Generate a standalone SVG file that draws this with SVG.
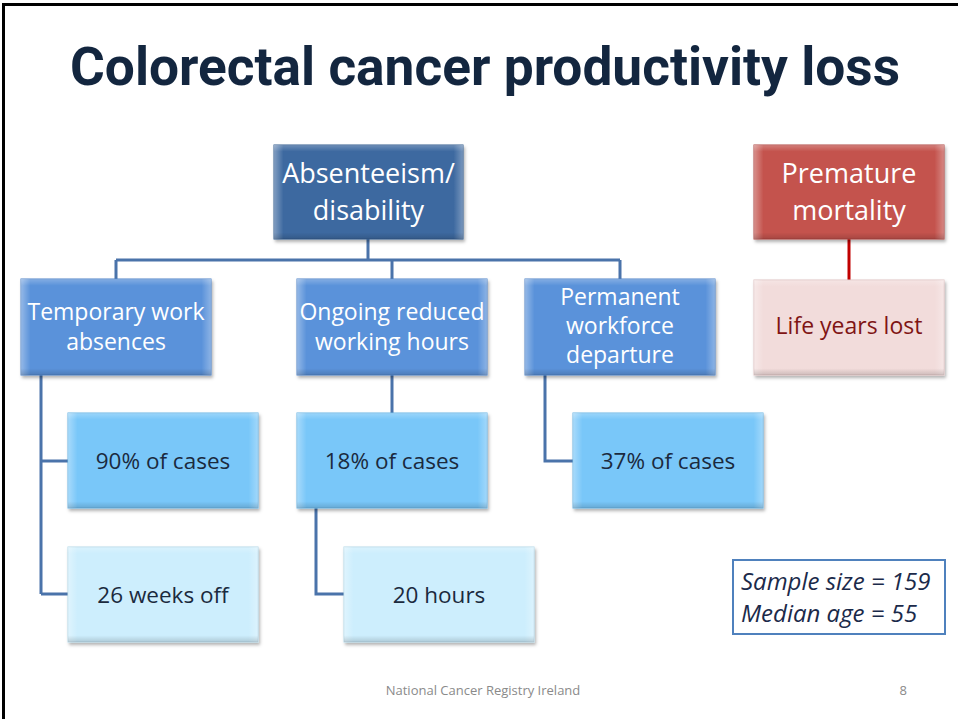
<svg xmlns="http://www.w3.org/2000/svg" width="958" height="719" viewBox="0 0 958 719">
<defs>
<filter id="sh" x="-10%" y="-10%" width="125%" height="130%">
<feDropShadow dx="1.5" dy="2.5" stdDeviation="1.5" flood-color="#000" flood-opacity="0.3"/>
</filter>
<linearGradient id="bevL" x1="0" y1="0" x2="1" y2="0">
<stop offset="0" stop-color="#fff" stop-opacity="0.35"/>
<stop offset="0.05" stop-color="#fff" stop-opacity="0"/>
<stop offset="0.95" stop-color="#fff" stop-opacity="0"/>
<stop offset="1" stop-color="#fff" stop-opacity="0.3"/>
</linearGradient>
<linearGradient id="bevT" x1="0" y1="0" x2="0" y2="1">
<stop offset="0" stop-color="#fff" stop-opacity="0.25"/>
<stop offset="0.07" stop-color="#fff" stop-opacity="0"/>
<stop offset="0.93" stop-color="#000" stop-opacity="0"/>
<stop offset="1" stop-color="#000" stop-opacity="0.15"/>
</linearGradient>
</defs>
<style>
.t{font-family:"Open Sans","Liberation Sans",sans-serif;text-anchor:middle}
.w{fill:#ffffff;font-size:27px}
.wl{fill:#ffffff;font-size:23px}
.d{fill:#1b2a3e;font-size:22.5px}
.lvl0{fill:#3d69a0;stroke:#355d90;stroke-width:1}
.red0{fill:#c4524d;stroke:#b04642;stroke-width:1}
.lvl1{fill:#5a92da;stroke:#4f84c8;stroke-width:1}
.lvl2{fill:#79c7f9;stroke:#6ab5e6;stroke-width:1}
.lvl3{fill:#cdeefd;stroke:#b6d9ea;stroke-width:1}
.pink{fill:#f2dcdb;stroke:#e0c4c3;stroke-width:1}
.bl{fill:url(#bevL)}
.bt{fill:url(#bevT)}
.c{fill:none;stroke:#4a73aa;stroke-width:3}
.cr{fill:none;stroke:#c00000;stroke-width:3}
.s{font-family:"Open Sans","Liberation Sans",sans-serif;font-style:italic;font-size:24px;fill:#1b2a4a}
</style>
<rect x="0" y="0" width="958" height="719" fill="#ffffff"/>
<path d="M3.5,719 V4.5 H958" fill="none" stroke="#000" stroke-width="3"/>
<text x="485" y="85" font-family="Roboto,Open Sans,sans-serif" font-weight="bold" font-size="53" fill="#13263f" text-anchor="middle" textLength="830" lengthAdjust="spacingAndGlyphs">Colorectal cancer productivity loss</text>

<g id="connectors">
<path class="c" d="M368,239 V260 M116,260 H620 M116,260 V279 M392,260 V279 M620,260 V279"/>
<path class="c" d="M41,375 V594 M41,461 H68 M41,594 H68"/>
<path class="c" d="M392,375 V413"/>
<path class="c" d="M316,508 V594 H344"/>
<path class="c" d="M545,375 V461 H573"/>
<path class="cr" d="M849,239 V280"/>
</g>

<g id="absenteeism">
<g filter="url(#sh)"><rect class="lvl0" x="274" y="145" width="189" height="94"/></g>
<rect class="bl" x="274" y="145" width="189" height="94"/><rect class="bt" x="274" y="145" width="189" height="94"/>
<text class="t w" x="368.5" y="183">Absenteeism/</text>
<text class="t w" x="368.5" y="220">disability</text>
</g>

<g id="premature">
<g filter="url(#sh)"><rect class="red0" x="754" y="145" width="190" height="94"/></g>
<rect class="bl" x="754" y="145" width="190" height="94"/><rect class="bt" x="754" y="145" width="190" height="94"/>
<text class="t w" x="849" y="183">Premature</text>
<text class="t w" x="849" y="220">mortality</text>
</g>

<g id="lifeyears">
<g filter="url(#sh)"><rect class="pink" x="754" y="280" width="190" height="95"/></g>
<rect class="bl" x="754" y="280" width="190" height="95"/><rect class="bt" x="754" y="280" width="190" height="95"/>
<text class="t" x="849" y="334" fill="#7f1414" font-size="23">Life years lost</text>
</g>

<g id="temporary">
<g filter="url(#sh)"><rect class="lvl1" x="21" y="279" width="190" height="96"/></g>
<rect class="bl" x="21" y="279" width="190" height="96"/><rect class="bt" x="21" y="279" width="190" height="96"/>
<text class="t wl" x="116" y="320">Temporary work</text>
<text class="t wl" x="116" y="350">absences</text>
</g>

<g id="ongoing">
<g filter="url(#sh)"><rect class="lvl1" x="297" y="279" width="190" height="96"/></g>
<rect class="bl" x="297" y="279" width="190" height="96"/><rect class="bt" x="297" y="279" width="190" height="96"/>
<text class="t wl" x="392" y="320">Ongoing reduced</text>
<text class="t wl" x="392" y="350">working hours</text>
</g>

<g id="permanent">
<g filter="url(#sh)"><rect class="lvl1" x="525" y="279" width="190" height="96"/></g>
<rect class="bl" x="525" y="279" width="190" height="96"/><rect class="bt" x="525" y="279" width="190" height="96"/>
<text class="t wl" x="620" y="305">Permanent</text>
<text class="t wl" x="620" y="334">workforce</text>
<text class="t wl" x="620" y="363">departure</text>
</g>

<g id="cases90">
<g filter="url(#sh)"><rect class="lvl2" x="68" y="413" width="190" height="95"/></g>
<rect class="bl" x="68" y="413" width="190" height="95"/><rect class="bt" x="68" y="413" width="190" height="95"/>
<text class="t d" x="163" y="469">90% of cases</text>
</g>

<g id="weeks26">
<g filter="url(#sh)"><rect class="lvl3" x="68" y="547" width="190" height="95"/></g>
<rect class="bl" x="68" y="547" width="190" height="95"/><rect class="bt" x="68" y="547" width="190" height="95"/>
<text class="t d" x="163" y="603">26 weeks off</text>
</g>

<g id="cases18">
<g filter="url(#sh)"><rect class="lvl2" x="297" y="413" width="190" height="95"/></g>
<rect class="bl" x="297" y="413" width="190" height="95"/><rect class="bt" x="297" y="413" width="190" height="95"/>
<text class="t d" x="392" y="469">18% of cases</text>
</g>

<g id="hours20">
<g filter="url(#sh)"><rect class="lvl3" x="344" y="547" width="190" height="95"/></g>
<rect class="bl" x="344" y="547" width="190" height="95"/><rect class="bt" x="344" y="547" width="190" height="95"/>
<text class="t d" x="439" y="603">20 hours</text>
</g>

<g id="cases37">
<g filter="url(#sh)"><rect class="lvl2" x="573" y="413" width="190" height="95"/></g>
<rect class="bl" x="573" y="413" width="190" height="95"/><rect class="bt" x="573" y="413" width="190" height="95"/>
<text class="t d" x="668" y="469">37% of cases</text>
</g>

<g id="sample">
<rect x="733" y="560" width="212" height="74" fill="#ffffff" stroke="#4f81bd" stroke-width="2"/>
<text class="s" x="741" y="590">Sample size = 159</text>
<text class="s" x="741" y="622">Median age = 55</text>
</g>

<text x="483" y="695" font-family="Open Sans,Liberation Sans,sans-serif" font-size="13" fill="#8a8a8a" text-anchor="middle">National Cancer Registry Ireland</text>
<text x="907" y="695" font-family="Open Sans,Liberation Sans,sans-serif" font-size="13" fill="#8a8a8a" text-anchor="end">8</text>
</svg>
